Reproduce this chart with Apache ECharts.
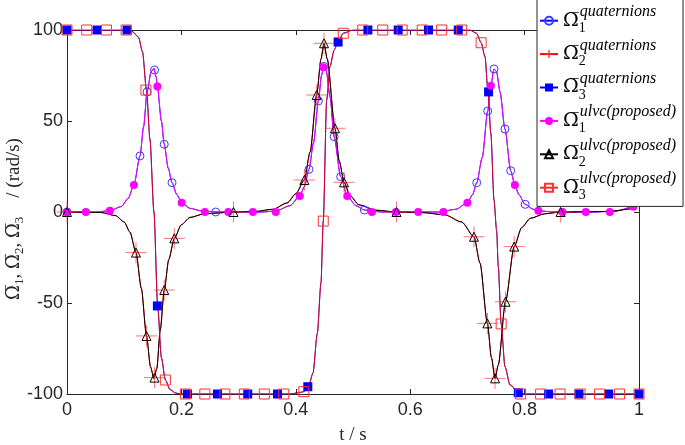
<!DOCTYPE html>
<html><head><meta charset="utf-8">
<script src="https://cdn.jsdelivr.net/npm/echarts@6/dist/echarts.min.js"></script>
<style>html,body{margin:0;padding:0;background:#fff}#c{width:685px;height:445px}</style>
</head><body><div id="c"></div>
<script>
// ---------- values ----------
// smooth curves (shared by the quaternion and the ulvc solutions, which overlap)
const curve1T = [0,0.05,0.075,0.095,0.107,0.117,0.1276,0.134,0.140,0.147,0.152,0.156,0.158,0.165,0.170,0.177,0.1836,0.192,0.2005,0.215,0.235,0.26,0.30,0.34,0.365,0.39,0.407,0.415,0.423,0.431,0.4395,0.445,0.449,0.453,0.46,0.467,0.4785,0.490,0.505,0.52,0.55,0.60,0.65,0.68,0.70,0.709,0.7163,0.726,0.7355,0.741,0.7465,0.751,0.757,0.7657,0.7757,0.783,0.79,0.801,0.815,0.824,0.85,0.92,0.96,0.99,1.0];
const curve1V = [0,0,0.7,3,7.5,14.8,30.8,47,66,77,79,74,69,50,37.2,24,16.1,9.5,5.1,2,0.6,0,0,0,0.5,3.5,8.8,14,23.4,38,61,75,80.5,78,63,41.4,19.4,8.8,3.5,1.1,0,0,0,1.5,5.1,9.5,16.1,30,55.5,69.4,78.6,77,66,45.6,22.7,14.8,9.5,4.2,1.5,0.7,0,0,0.5,2.9,4];
const curve2T = [0,0.06,0.085,0.1,0.11,0.1206,0.13,0.139,0.146,0.152,0.157,0.163,0.170,0.178,0.1876,0.2,0.215,0.24,0.291,0.33,0.36,0.385,0.4,0.415,0.425,0.4365,0.444,0.4493,0.455,0.4685,0.476,0.4843,0.495,0.51,0.54,0.576,0.62,0.66,0.69,0.7115,0.722,0.735,0.742,0.7483,0.754,0.7666,0.7818,0.795,0.81,0.835,0.863,0.95,0.98,1.0];
const curve2V = [0,-0.3,-2,-5.5,-11,-22.3,-42,-68.1,-85,-91.5,-86,-65,-42.9,-26,-14.5,-7,-3,-1,0,0.3,1.5,5,10,17.6,33,64.3,84,92.7,84,46,28,16.3,9,4,1,0,-0.3,-1.5,-5.5,-13.6,-28,-61.2,-80,-91.4,-84,-49.3,-19,-8.5,-3.5,-1,0,0.3,1.5,4];
const curve3T = [0,0.105,0.115,0.125,0.132,0.139,0.145,0.152,0.1585,0.165,0.172,0.18,0.19,0.2,0.39,0.405,0.414,0.422,0.43,0.4376,0.444,0.448,0.454,0.4598,0.467,0.474,0.483,0.5,0.704,0.716,0.724,0.7308,0.736,0.741,0.7465,0.751,0.754,0.759,0.7657,0.7745,0.79,0.8,1.0];
const curve3V = [100,100,99,96,88,67,40,0,-51.6,-80,-92.3,-97.5,-99.5,-100,-100,-99.3,-98.7,-96,-88.6,-66.7,-39,-5,61.5,80,89,93.4,98.2,100,100,98.2,93,85.3,66,43.2,6.6,-9.9,-30,-61.5,-85,-95,-99.3,-100,-100];

// markers
const q1T = [0,0.1276,0.140,0.153,0.170,0.1836,0.26,0.423,0.4395,0.449,0.467,0.4785,0.5198,0.7163,0.7355,0.7465,0.7657,0.7757,0.801];
const q1V = [0,30.8,66,78,37.2,16.1,0,23.4,61,80,41.4,19.4,1.1,16.1,55.5,78.6,45.6,22.7,4.2];
const q2T = [0,0.1206,0.139,0.153,0.170,0.1876,0.291,0.415,0.4365,0.4493,0.4685,0.4843,0.576,0.7115,0.735,0.7483,0.7666,0.7818,0.863];
const q2V = [0,-22.3,-68.1,-91,-42.9,-14.5,0,17.6,64.3,92.7,46,16.3,0,-13.6,-61.2,-91.4,-49.3,-19,0];
const q3T = [0,0.0526,0.105,0.158,0.2105,0.263,0.316,0.368,0.421,0.474,0.526,0.579,0.632,0.684,0.737,0.789,0.842,0.895,0.947,1.0];
const q3V = [100,100,100,-51.6,-100,-100,-100,-100,-96,93.4,100,100,100,100,66,-99.3,-100,-100,-100,-100];
const u1T = [0,0.033,0.075,0.117,0.158,0.2005,0.241,0.282,0.325,0.365,0.407,0.448,0.490,0.533,0.575,0.614,0.658,0.700,0.741,0.783,0.824,0.866,0.907,0.949,0.990];
const u1V = [0,0,0.7,14.8,69,5.1,0,0,0,0,8.8,79.5,8.8,0,0,0,0,5.1,69.4,14.8,0.7,0,0,0,2.9];
const u2T = [0,0.1206,0.139,0.153,0.170,0.1876,0.291,0.415,0.4365,0.4493,0.4685,0.4843,0.576,0.7115,0.735,0.7483,0.7666,0.7818,0.863];
const u2V = [0,-22.3,-68.1,-91,-42.9,-14.5,0,17.6,64.3,92.7,46,16.3,0,-13.6,-61.2,-91.4,-49.3,-19,0];
const u3T = [0,0.0345,0.069,0.1034,0.138,0.172,0.207,0.241,0.276,0.310,0.345,0.379,0.414,0.448,0.483,0.517,0.552,0.586,0.621,0.655,0.690,0.724,0.759,0.793,0.828,0.862,0.897,0.931,0.966,1.0];
const u3V = [100,100,100,100,67,-92.3,-100,-100,-100,-100,-100,-100,-98.7,-5,98.2,100,100,100,100,100,100,93,-61.5,-100,-100,-100,-100,-100,-100,-100];

// text
const xTickLabels = ['0','0.2','0.4','0.6','0.8','1'];
const yTickLabels = ['-100','-50','0','50','100'];
const legendSub = {q1:'1',q2:'2',q3:'3',u1:'1',u2:'2',u3:'3'};
const legendSup = {q1:'quaternions',q2:'quaternions',q3:'quaternions',u1:'ulvc(proposed)',u2:'ulvc(proposed)',u3:'ulvc(proposed)'};
const OM = '\u03A9\u0305';

// ---------- chart ----------
const zip = (a,b)=>a.map((t,i)=>[t,b[i]]);
const AX = '#262626';
const serif = 'Liberation Serif';
const omFont = 'DejaVu Serif';
const plusPath = 'path://M10 0V20M0 10H20';

const styles = {
  q1:{line:'#0000ff', sym:'circle', size:8, fill:'rgba(0,0,0,0)', stroke:'#3a3aff', bw:1, ct:curve1T, cv:curve1V, mt:q1T, mv:q1V},
  q2:{line:'#ff0000', sym:plusPath, size:21, fill:'rgba(0,0,0,0)', stroke:'rgba(255,40,40,0.65)', bw:1, ct:curve2T, cv:curve2V, mt:q2T, mv:q2V},
  q3:{line:'#0000ff', sym:'rect', size:9, fill:'#0000ff', stroke:'#0000ff', bw:0, ct:curve3T, cv:curve3V, mt:q3T, mv:q3V},
  u1:{line:'#ff00ff', sym:'circle', size:8, fill:'#ff00ff', stroke:'#ff00ff', bw:0, ct:curve1T, cv:curve1V, mt:u1T, mv:u1V},
  u2:{line:'#000000', sym:'triangle', size:9, fill:'rgba(0,0,0,0)', stroke:'#000000', bw:1, ct:curve2T, cv:curve2V, mt:u2T, mv:u2V},
  u3:{line:'rgba(255,0,0,0.85)', sym:'rect', size:10, fill:'rgba(0,0,0,0)', stroke:'#ff3030', bw:1, ct:curve3T, cv:curve3V, mt:u3T, mv:u3V}
};

const series = [];
['q1','q2','q3','u1','u2','u3'].forEach(k=>{
  const s = styles[k];
  series.push({
    name:k, type:'line', data:zip(s.ct,s.cv), smooth:0.25, smoothMonotone:'x',
    symbol:s.sym, symbolSize:s.size, showSymbol:false,
    lineStyle:{color:s.line, width:1},
    itemStyle:{color:s.fill, borderColor:s.stroke, borderWidth:s.bw},
    emphasis:{disabled:true}, silent:true, z:2
  });
  series.push({
    name:k+' markers', type:'scatter', data:zip(s.mt,s.mv),
    symbol:s.sym, symbolSize:s.size,
    itemStyle:{color:s.fill, borderColor:s.stroke, borderWidth:s.bw, opacity:1},
    emphasis:{disabled:true}, silent:true, z:2
  });
});

const chart = echarts.init(document.getElementById('c'), null, {renderer:'canvas'});
chart.setOption({
  animation:false,
  backgroundColor:'#fff',
  grid:{left:67, right:46, top:30, bottom:51, outerBoundsMode:'none', containLabel:false},
  xAxis:[{
    type:'value', min:0, max:1, interval:0.2,
    axisLine:{show:true, onZero:false, lineStyle:{color:AX, width:1}},
    axisTick:{show:true, inside:true, length:5, lineStyle:{color:AX}},
    axisLabel:{fontFamily:'Liberation Sans', fontSize:18, color:AX, margin:7,
      formatter:(v)=>xTickLabels[Math.round(v/0.2)]},
    splitLine:{show:false},
    name:'t / s', nameLocation:'middle', nameGap:32, nameMoveOverlap:false,
    nameTextStyle:{fontFamily:serif, fontSize:19, color:AX}
  },{
    type:'value', position:'top', min:0, max:1, interval:0.2,
    axisLine:{show:true, onZero:false, lineStyle:{color:AX, width:1}},
    axisTick:{show:true, inside:true, length:5, lineStyle:{color:AX}},
    axisLabel:{show:false}, splitLine:{show:false}
  }],
  yAxis:[{
    type:'value', min:-100, max:100, interval:50,
    axisLine:{show:true, onZero:false, lineStyle:{color:AX, width:1}},
    axisTick:{show:true, inside:true, length:5, lineStyle:{color:AX}},
    axisLabel:{fontFamily:'Liberation Sans', fontSize:18, color:AX, margin:4,
      formatter:(v)=>yTickLabels[Math.round((v+100)/50)]},
    splitLine:{show:false},
    name:'{o|'+OM+'}{s|1}{c|, }{o|'+OM+'}{s|2}{c|, }{o|'+OM+'}{s|3}{e|    / (rad/s)}',
    nameLocation:'middle', nameGap:41, nameRotate:90, nameMoveOverlap:false,
    nameTextStyle:{color:AX, rich:{
      o:{fontFamily:omFont, fontSize:18, color:AX, lineHeight:24},
      s:{fontFamily:serif, fontSize:13, color:AX, lineHeight:24, verticalAlign:'bottom'},
      c:{fontFamily:serif, fontSize:19, color:AX, lineHeight:24},
      e:{fontFamily:serif, fontSize:19, color:AX, lineHeight:24, padding:[0,14,0,0]}
    }}
  },{
    type:'value', position:'right', min:-100, max:100, interval:50,
    axisLine:{show:true, onZero:false, lineStyle:{color:AX, width:1}},
    axisTick:{show:true, inside:true, length:5, lineStyle:{color:AX}},
    axisLabel:{show:false}, splitLine:{show:false}
  }],
  legend:{
    data:['q1','q2','q3','u1','u2','u3'],
    orient:'vertical', left:537, top:-2,
    padding:[6,7,2,2], itemGap:0, itemWidth:18, itemHeight:10,
    backgroundColor:'#fff', borderColor:AX, borderWidth:1, borderRadius:0,
    selectedMode:false,
    formatter:(n)=>'{o|'+OM+'}{s|'+legendSub[n]+'}{p|'+legendSup[n]+'}',
    textStyle:{color:'#000', rich:{
      o:{fontFamily:omFont, fontSize:19, lineHeight:33.4, color:'#000'},
      s:{fontFamily:serif, fontSize:14, lineHeight:14, width:1, verticalAlign:'bottom', padding:[0,0,2,0], color:'#000'},
      p:{fontFamily:serif, fontStyle:'italic', fontSize:16, lineHeight:16, verticalAlign:'top', padding:[0,0,0,0], color:'#000'}
    }}
  },
  series:series
});
</script></body></html>
